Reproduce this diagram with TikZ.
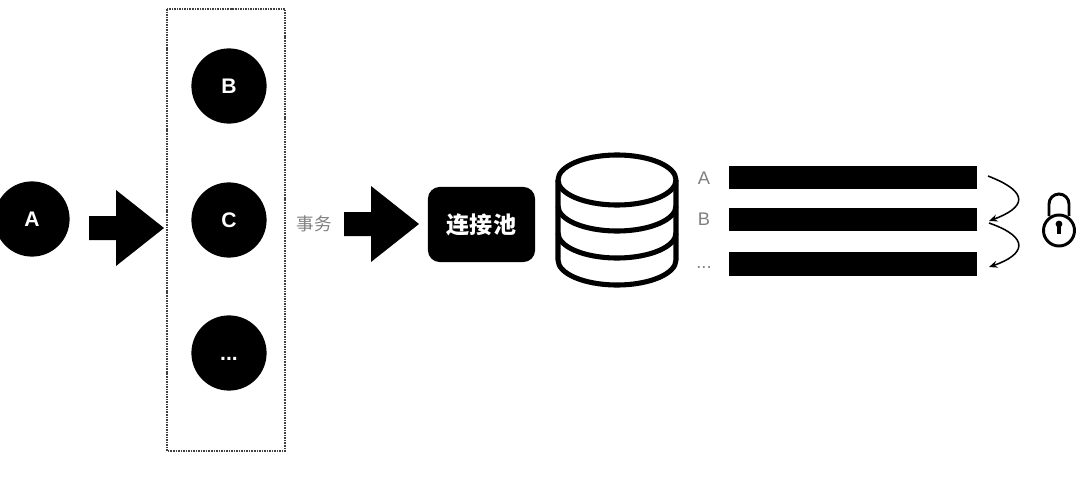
\documentclass[tikz,border=0pt]{standalone}
\usepackage{fontspec}
\setmainfont{Liberation Sans}
\newfontfamily\cjk{Noto Sans CJK SC}
\usetikzlibrary{arrows.meta}

\definecolor{labelgray}{gray}{0.5}
\tikzset{
  client/.style={circle,fill=black,text=white,minimum size=1.88cm,inner sep=0pt,font=\fontsize{15}{15}\selectfont\bfseries},
  rowbar/.style={fill=black,minimum width=6.2cm,minimum height=.58cm,inner sep=0pt},
  rowlabel/.style={text=labelgray,inner sep=0pt,font=\fontsize{13}{13}\selectfont},
  dbline/.style={line width=3.6pt,line join=round},
  lockline/.style={line width=2.1pt},
  hop/.style={line width=1.1pt,-{Stealth[length=6pt,width=5pt]}}
}

\begin{document}
\begin{tikzpicture}[x=.025cm,y=-.025cm]
  \useasboundingbox (0,0) rectangle (1080,479);

  \node[client] (nA) at (32,219) {A};
  \node[client] (nB) at (229,86) {B};
  \node[client] (nC) at (229,220) {C};
  \node[client] (nmore) at (229,353) {\smash{\raisebox{-5pt}{...}}};
  \draw[line width=1.1pt,dash pattern=on 1.1pt off .7pt,black!75] (167,9) rectangle (285,451);

  % block arrows
  \foreach \x/\y in {89/228,344/224} {
    \fill (\x,\y-12) --++(27,0) --++(0,-26) --++(48,38) --++(-48,38) --++(0,-26) --++(-27,0) --cycle;
  }

  \node[text=labelgray,inner sep=0pt,font=\cjk\fontsize{12.5}{13}\selectfont] (ntx) at (314,224) {事务};
  \node[fill=black,text=white,rounded corners=.3cm,minimum width=2.68cm,minimum height=1.88cm,inner sep=0pt,font=\cjk\bfseries\fontsize{16.4}{17}\selectfont] (npool) at (481.5,224.5) {连接池};

  % database
  \draw[dbline] (617,180) ellipse (59 and 25);
  \draw[dbline] (558,180) --(558,260) arc[start angle=180,end angle=0,x radius=59,y radius=25] --(676,180);
  \draw[dbline] (558,206) arc[start angle=180,end angle=0,x radius=59,y radius=25];
  \draw[dbline] (558,233) arc[start angle=180,end angle=0,x radius=59,y radius=25];

  \node[rowlabel] (nla) at (704,178) {A};
  \node[rowlabel] (nlb) at (704,219) {B};
  \node[rowlabel] (nlm) at (704,268) {...};
  \node[rowbar] (nra) at (853,177.5) {};
  \node[rowbar] (nrb) at (853,219.5) {};
  \node[rowbar] (nrm) at (853,264) {};

  \coordinate (h0) at (988,176);
  \coordinate (h1) at (989,221);
  \coordinate (h2) at (989,223);
  \coordinate (h3) at (989,267);
  \draw[hop] (h0) .. controls (1032,193) and (1024,208) .. (h1);
  \draw[hop] (h2) .. controls (1032,238) and (1024,255) .. (h3);

  % lock
  \draw[lockline] (1059,230.5) circle (15.5);
  \draw[lockline] (1049,216) --(1049,204) arc[start angle=180,end angle=0,x radius=10,y radius=-10] --(1069,216);
  \fill (1059,224) circle (3.4);
  \draw[line width=2.2pt] (1059,224) --(1059,234);
\end{tikzpicture}
\end{document}
